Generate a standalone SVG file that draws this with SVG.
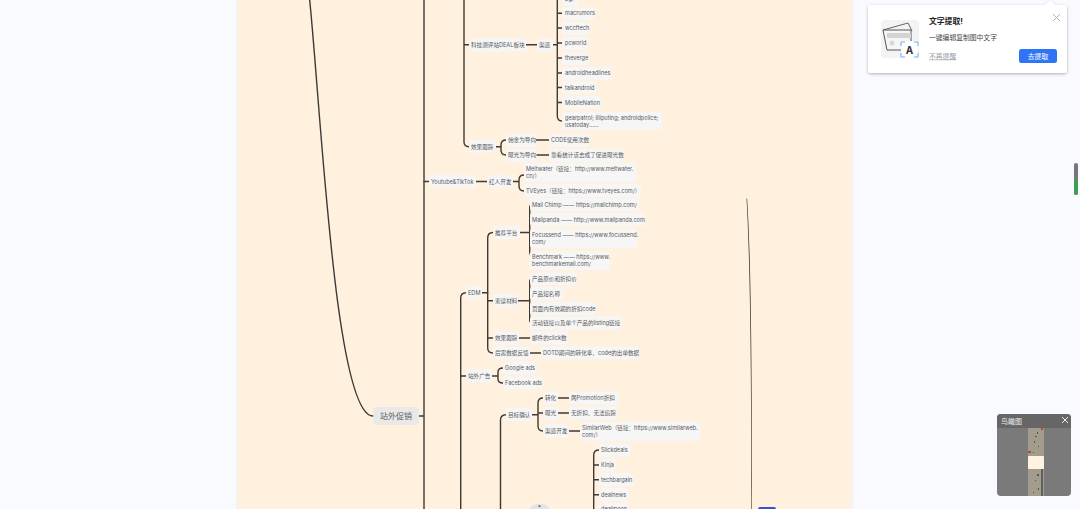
<svg xmlns="http://www.w3.org/2000/svg" width="1080" height="509" viewBox="0 0 1080 509">
<style>
text{font-family:"Inter","Noto Sans CJK SC",sans-serif;font-size:5.600px;fill:#5a5a5a;dominant-baseline:central}
.p{fill:#f6f6f6}
.c{fill:none;stroke:#3d3a36;stroke-width:1.400;stroke-linecap:round}
</style>
<defs><filter id="sh" x="-10%" y="-20%" width="120%" height="140%"><feDropShadow dx="0" dy="1" stdDeviation="1.500" flood-color="#000" flood-opacity="0.300"/></filter></defs>
<rect width="1080" height="509" fill="#f9faff"/>
<rect x="236" width="617" height="509" fill="#f3f3f6"/>
<rect x="237.500" width="613.500" height="509" fill="#fff1dd"/>
<g id="connectors" class="c">
<path d="M309.500 -2C321 110 335 416 373 416"/>
<path d="M424 0V509M419 416H424"/>
<path d="M464 0V142Q464 146.700 469 146.700M464 44.700H469M526 44.700H537M553 44.700H557.300M557.300 0V116Q557.300 121 562 121M557.300 13.300H562M557.300 28H562M557.300 43H562M557.300 58H562M557.300 73H562M557.300 87.500H562M557.300 102.500H562"/>
<path d="M496 146.700H501M506 140Q501 140 501 145V150Q501 155 506 155M535 140H549M537 155H549"/>
<path d="M424 181.500H429M476 181.500H487M513 181.500H519M524 175Q519 175 519 180V186Q519 191 524 191"/>
<path d="M466 292.700Q460.700 292.700 460.700 298V509M482 292.700H487.700"/>
<path d="M493 232.500Q487.700 232.500 487.700 238V348Q487.700 353 493 353M487.700 300.700H493M487.700 338H493"/>
<path d="M520 232.500H529.700M532 204.700Q529.700 204.700 529.700 208V252Q529.700 256 533 256M529.700 219.500H532M529.700 236H532"/>
<path d="M518 300.700H529.700M532 279Q529.700 279 529.700 282V320Q529.700 323 533 323M529.700 293.700H532M529.700 308.500H532"/>
<path d="M519 338H530M530 353H541"/>
<path d="M460.700 376H466M492 376H498M503 368Q498 368 498 372V379Q498 383 503 383"/>
<path d="M506 414.700Q500.500 414.700 500.500 420V509M532 414.700H538M543 398Q538 398 538 403V426Q538 431 543 431M538 413H543"/>
<path d="M558 398H569M558 413H569M569 431H580"/>
<path d="M599 450Q593.700 450 593.700 455V509M593.700 465H599M593.700 479.700H599M593.700 494.700H599"/>
</g>
<path id="taper" d="M746.500 198.500C749 240 751.500 330 751.400 509H752C752.200 330 750 240 747.100 198.500Z" fill="#3d3a36"/>

<g id="root"><rect x="373.500" y="407" width="45.500" height="18" rx="3" fill="#e9e9e9"/><text x="380" y="416" style="font-size:8px">站外促销</text></g>

<g id="n-bgr"><rect class="p" x="562" y="-7" width="16" height="13" rx="3"/><text x="565" y="-1">bgr</text></g>
<g id="n-macrumors"><rect class="p" x="562" y="7" width="33" height="13" rx="3"/><text x="565" y="13.300">macrumors</text></g>
<g id="n-wccftech"><rect class="p" x="562" y="22" width="28" height="13" rx="3"/><text x="565" y="28">wccftech</text></g>
<g id="n-pcworld"><rect class="p" x="562" y="37" width="26" height="13" rx="3"/><text x="565" y="43">pcworld</text></g>
<g id="n-theverge"><rect class="p" x="562" y="52" width="27" height="13" rx="3"/><text x="565" y="58">theverge</text></g>
<g id="n-androidheadlines"><rect class="p" x="562" y="67" width="49" height="13" rx="3"/><text x="565" y="73">androidheadlines</text></g>
<g id="n-talkandroid"><rect class="p" x="562" y="81" width="34" height="13" rx="3"/><text x="565" y="87.500">talkandroid</text></g>
<g id="n-mobilenation"><rect class="p" x="562" y="96" width="39" height="13" rx="3"/><text x="565" y="102.500">MobileNation</text></g>
<g id="n-gearpatrol"><rect class="p" x="562" y="112" width="100" height="18" rx="3"/><text x="565" y="117.500">gearpatrol; liliputing; androidpolice;</text><text x="565" y="125">usatoday......</text></g>
<g id="n-deal"><rect class="p" x="469" y="38.500" width="57" height="13" rx="3"/><text x="471" y="44.700">科技测评站DEAL板块</text></g>
<g id="n-channel"><rect class="p" x="537" y="38.500" width="16" height="13" rx="3"/><text x="539" y="44.700">渠道</text></g>

<g id="n-track"><rect class="p" x="469" y="140" width="27" height="13" rx="3"/><text x="471" y="146.700">效果跟踪</text></g>
<g id="n-commission"><rect class="p" x="506" y="134" width="30" height="13" rx="3"/><text x="508" y="140">佣金为导向</text></g>
<g id="n-exposure"><rect class="p" x="506" y="149" width="30" height="13" rx="3"/><text x="508" y="155">曝光为导向</text></g>
<g id="n-code"><rect class="p" x="549" y="134" width="40" height="13" rx="3"/><text x="551" y="140">CODE使用次数</text></g>
<g id="n-stats"><rect class="p" x="549" y="149" width="75" height="13" rx="3"/><text x="551" y="155">靠看统计该去成了促进曝光数</text></g>

<g id="n-youtube"><rect class="p" x="429" y="175" width="47" height="13" rx="3"/><text x="431" y="181.500">Youtube&amp;TikTok</text></g>
<g id="n-kol"><rect class="p" x="487" y="175" width="26" height="13" rx="3"/><text x="489" y="181.500">红人开发</text></g>
<g id="n-meltwater"><rect class="p" x="524" y="163" width="112" height="19" rx="3"/><text x="526" y="168.500">Meltwater（链接：http://www.meltwater.</text><text x="526" y="176">cn/）</text></g>
<g id="n-tveyes"><rect class="p" x="524" y="184" width="117" height="13" rx="3"/><text x="526" y="190.500">TVEyes（链接：https://www.tveyes.com/）</text></g>

<g id="n-edm"><rect class="p" x="466" y="286" width="16" height="13" rx="3"/><text x="468" y="292.700">EDM</text></g>
<g id="n-platform"><rect class="p" x="493" y="226" width="27" height="13" rx="3"/><text x="495" y="232.500">推荐平台</text></g>
<g id="n-mailchimp"><rect class="p" x="530" y="198" width="108" height="13" rx="3"/><text x="532" y="204.700">Mail Chimp —— https://mailchimp.com/</text></g>
<g id="n-mailpanda"><rect class="p" x="530" y="213" width="115" height="13" rx="3"/><text x="532" y="219.500">Mailpanda —— http://www.mailpanda.com</text></g>
<g id="n-focussend"><rect class="p" x="530" y="229" width="107" height="19" rx="3"/><text x="532" y="234.500">Focussend —— https://www.focussend.</text><text x="532" y="242">com/</text></g>
<g id="n-benchmark"><rect class="p" x="530" y="251" width="80" height="19" rx="3"/><text x="532" y="256.500">Benchmark —— https://www.</text><text x="532" y="264">benchmarkemail.com/</text></g>
<g id="n-material"><rect class="p" x="493" y="294" width="25" height="13" rx="3"/><text x="495" y="300.700">索读材料</text></g>
<g id="n-price"><rect class="p" x="530" y="272.500" width="47" height="13" rx="3"/><text x="532" y="279">产品原价和折扣价</text></g>
<g id="n-shortname"><rect class="p" x="530" y="287" width="33" height="13" rx="3"/><text x="532" y="293.700">产品短名称</text></g>
<g id="n-pagecode"><rect class="p" x="530" y="302" width="66" height="13" rx="3"/><text x="532" y="308.500">页面内有效期的折扣code</text></g>
<g id="n-listing"><rect class="p" x="530" y="316.500" width="91" height="13" rx="3"/><text x="532" y="323">活动链接以及单个产品的listing链接</text></g>
<g id="n-effect"><rect class="p" x="493" y="331.500" width="26" height="13" rx="3"/><text x="495" y="338">效果跟踪</text></g>
<g id="n-click"><rect class="p" x="530" y="331.500" width="38" height="13" rx="3"/><text x="532" y="338">邮件的click数</text></g>
<g id="n-feedback"><rect class="p" x="493" y="346.500" width="37" height="13" rx="3"/><text x="495" y="353">后需数据反馈</text></g>
<g id="n-dotd"><rect class="p" x="541" y="346.500" width="98" height="13" rx="3"/><text x="543" y="353">DOTD期间的转化率、code的出单数据</text></g>

<g id="n-ads"><rect class="p" x="466" y="369.500" width="26" height="13" rx="3"/><text x="468" y="376">站外广告</text></g>
<g id="n-google"><rect class="p" x="503" y="361.500" width="34" height="13" rx="3"/><text x="505" y="368">Google ads</text></g>
<g id="n-facebook"><rect class="p" x="503" y="376.500" width="40" height="13" rx="3"/><text x="505" y="383">Facebook ads</text></g>

<g id="n-goal"><rect class="p" x="506" y="408" width="26" height="13" rx="3"/><text x="508" y="414.700">目标确认</text></g>
<g id="n-convert"><rect class="p" x="543" y="391.500" width="15" height="13" rx="3"/><text x="545" y="398">转化</text></g>
<g id="n-expose"><rect class="p" x="543" y="406.500" width="15" height="13" rx="3"/><text x="545" y="413">曝光</text></g>
<g id="n-develop"><rect class="p" x="543" y="424.500" width="26" height="13" rx="3"/><text x="545" y="431">渠道开发</text></g>
<g id="n-promo"><rect class="p" x="569" y="391.500" width="49" height="13" rx="3"/><text x="571" y="398">两Promotion折扣</text></g>
<g id="n-nodiscount"><rect class="p" x="569" y="406.500" width="48" height="13" rx="3"/><text x="571" y="413">无折扣、无法追踪</text></g>
<g id="n-similarweb"><rect class="p" x="580" y="422" width="120" height="19" rx="3"/><text x="582" y="428">SimilarWeb（链接：https://www.similarweb.</text><text x="582" y="435">com/）</text></g>
<g id="n-slickdeals"><rect class="p" x="599" y="443.500" width="31" height="13" rx="3"/><text x="601" y="450">Slickdeals</text></g>
<g id="n-kinja"><rect class="p" x="599" y="458.500" width="17" height="13" rx="3"/><text x="601" y="465">Kinja</text></g>
<g id="n-techbargain"><rect class="p" x="599" y="473" width="35" height="13" rx="3"/><text x="601" y="479.700">techbargain</text></g>
<g id="n-dealnews"><rect class="p" x="599" y="488" width="29" height="13" rx="3"/><text x="601" y="494.700">dealnews</text></g>
<g id="n-dealmoon"><rect class="p" x="599" y="503" width="30" height="13" rx="3"/><text x="601" y="509">dealmoon</text></g>

<g id="collapse"><path d="M530 509Q531 504 539.500 504Q548 504 549 509Z" fill="#e2e3e8"/><path d="M538 505.500H541L539.500 507.500Z" fill="#555"/></g>
<rect id="tab" x="758" y="507" width="18" height="4" rx="2" fill="#3f51c5"/>

<g id="popup">
<path d="M868 8Q868 5 871 5H1045L1050 0.500L1055 5H1064Q1067 5 1067 8V70Q1067 73 1064 73H871Q868 73 868 70Z" fill="#fff" filter="url(#sh)"/>
<rect x="881" y="20" width="38" height="38" rx="4" fill="#f3f3f3"/>
<path d="M883 30L908 23L912 31" fill="none" stroke="#666" stroke-width="1"/>
<path d="M883 30H911V50H887Z" fill="#f6f6f6" stroke="#555" stroke-width="1"/>
<rect x="887" y="33" width="24" height="5" fill="#d4d4d4"/>
<circle cx="892" cy="43" r="2.500" fill="#d8d8d8"/>
<rect x="901" y="41" width="17" height="17" fill="#fff"/>
<path d="M901 46V42H905M914 42H918V46M918 53V57H914M905 57H901V53" fill="none" stroke="#6db0ee" stroke-width="1"/>
<text x="909.500" y="49.500" text-anchor="middle" style="font-size:10px;font-weight:700;fill:#333">A</text>
<text x="929" y="20.500" style="font-size:7.800px;font-weight:700;fill:#222">文字提取!</text>
<text x="929" y="37.500" style="font-size:6.800px;fill:#444">一键编辑复制图中文字</text>
<text x="929" y="56" style="font-size:6.800px;fill:#9aa0a8;text-decoration:underline">不再提醒</text>
<rect x="1019" y="49" width="38" height="14" rx="2.500" fill="#2f74f6"/>
<text x="1038" y="56" text-anchor="middle" style="font-size:6.800px;fill:#fff">去提取</text>
<path d="M1053 14L1060 21M1060 14L1053 21" stroke="#a9b0bd" stroke-width="1" fill="none"/>
</g>

<g id="minimap">
<rect x="997" y="414" width="74" height="82" rx="4" fill="#7a7a7a"/>
<path d="M997 428V418Q997 414 1001 414H1067Q1071 414 1071 418V428Z" fill="#666"/>
<rect x="1028" y="428" width="16" height="68" fill="#a29c8c"/>
<rect x="1028" y="456" width="16" height="13" rx="1" fill="#fff3df"/>
<rect x="1041" y="469" width="2" height="27" fill="#5f5f5f"/>
<path d="M1037 432h1v2h-1zM1035 436h2v1h-2zM1034 441h1v2h-1zM1038 446h1v1h-1zM1033 452h1v1h-1zM1037 474h2v2h-2zM1035 480h1v1h-1zM1038 488h1v2h-1zM1033 492h1v1h-1z" fill="#555"/>
<path d="M1041 428h2v2h-2zM1028 451h3v2h-3z" fill="#b5493f"/>
<text x="1001" y="421" style="font-size:7px;fill:#eee">鸟瞰图</text>
<path d="M1062 417L1068 423M1068 417L1062 423" stroke="#eee" stroke-width="1" fill="none"/>
</g>

<g id="scrollbar">
<rect x="1074" y="163" width="4" height="32" rx="2" fill="#777"/>
<path d="M1074 180H1078V193Q1078 195 1076 195Q1074 195 1074 193Z" fill="#3f9e55"/>
</g>
</svg>
